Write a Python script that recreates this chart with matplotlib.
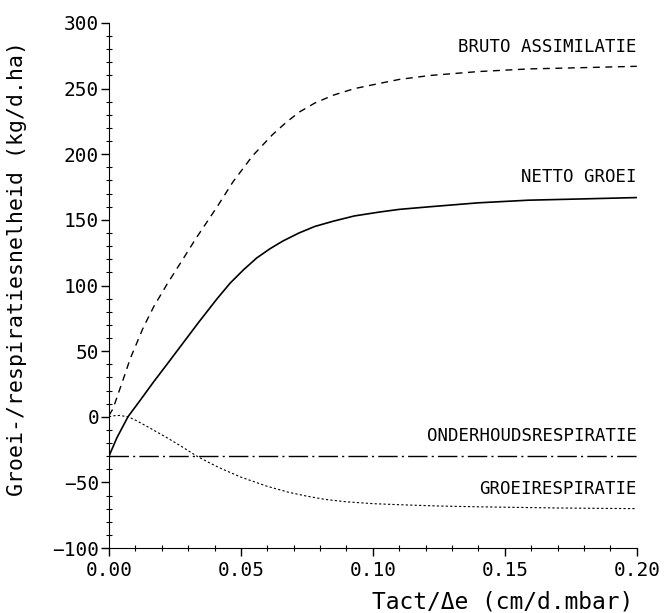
import numpy as np
import matplotlib
matplotlib.use("Agg")
import matplotlib.pyplot as plt
from matplotlib.ticker import MultipleLocator, FormatStrFormatter

# values
bruto_x = [0.0, 0.0015, 0.006, 0.008, 0.013, 0.017, 0.022, 0.028, 0.033, 0.041,
           0.047, 0.0545, 0.062, 0.067, 0.072, 0.078, 0.085, 0.093, 0.1026, 0.11,
           0.1216, 0.14, 0.159, 0.18, 0.20]
bruto_y = [1, 6, 32, 44, 68, 84, 101, 120, 136, 160,
           179, 199, 215, 224, 232, 239, 245, 250, 254, 257,
           260, 263, 265, 266, 267]

netto_x = [0.0, 0.003, 0.0072, 0.012, 0.0167, 0.022, 0.028, 0.034, 0.041, 0.046,
           0.051, 0.056, 0.061, 0.066, 0.072, 0.078, 0.085, 0.093, 0.1026, 0.11,
           0.1216, 0.14, 0.159, 0.18, 0.20]
netto_y = [-30, -16, 0, 13, 26, 40, 56, 72, 90, 102,
           112, 121, 128, 134, 140, 145, 149, 153, 156, 158,
           160, 163, 165, 166, 167]

onderhoud_x = [0.0, 0.20]
onderhoud_y = [-30, -30]

groei_x = [0.0, 0.002, 0.004, 0.0072, 0.010, 0.015, 0.022, 0.027, 0.0333, 0.038,
           0.042, 0.05, 0.06, 0.068, 0.075, 0.082, 0.09, 0.10, 0.11, 0.125,
           0.14, 0.17, 0.20]
groei_y = [0, 0.8, 1, 0, -2.5, -8, -16, -22, -30, -35,
           -39, -46, -53, -57.5, -60.5, -63, -64.8, -66.2, -67, -68,
           -68.6, -69.5, -70]

labels = ["BRUTO ASSIMILATIE", "NETTO GROEI", "ONDERHOUDSRESPIRATIE", "GROEIRESPIRATIE"]
label_y = [282, 183, -15, -55]

mono = "DejaVu Sans Mono"

fig = plt.figure(figsize=(6.71, 6.13), dpi=100)
ax = fig.add_axes([0.1624, 0.106, 0.7866, 0.8565])

ax.plot(bruto_x, bruto_y, color="black", lw=1.0, linestyle=(0, (5, 4)))
ax.plot(netto_x, netto_y, color="black", lw=1.2, linestyle="-")
ax.plot(onderhoud_x, onderhoud_y, color="black", lw=1.0,
        linestyle=(0, (14, 3, 1.5, 3)))
ax.plot(groei_x, groei_y, color="black", lw=0.8, linestyle=(0, (2, 2)))

for txt, yv in zip(labels, label_y):
    ax.text(0.2, yv, txt, ha="right", va="center", fontsize=12.5,
            family=mono, color="black")

ax.set_xlim(0, 0.2)
ax.set_ylim(-100, 300)
ax.xaxis.set_major_locator(MultipleLocator(0.05))
ax.xaxis.set_minor_locator(MultipleLocator(0.01))
ax.xaxis.set_major_formatter(FormatStrFormatter("%.2f"))
ax.yaxis.set_major_locator(MultipleLocator(50))
ax.yaxis.set_minor_locator(MultipleLocator(10))

for s in ["top", "right"]:
    ax.spines[s].set_visible(False)
ax.tick_params(which="major", direction="out", length=6, width=1, labelsize=14)
ax.tick_params(which="minor", direction="inout", length=5, width=0.8)
ax.tick_params(axis="y", which="major", pad=1)
for lab in ax.get_xticklabels() + ax.get_yticklabels():
    lab.set_family(mono)

ax.set_xlabel("Tact/Δe (cm/d.mbar)", fontsize=16.5, family=mono)
ax.xaxis.set_label_coords(0.745, -0.08)
ax.set_ylabel("Groei-/respiratiesnelheid (kg/d.ha)", fontsize=15.5, family=mono)
ax.yaxis.set_label_coords(-0.155, 0.533)

fig.savefig("out.png", dpi=100)
